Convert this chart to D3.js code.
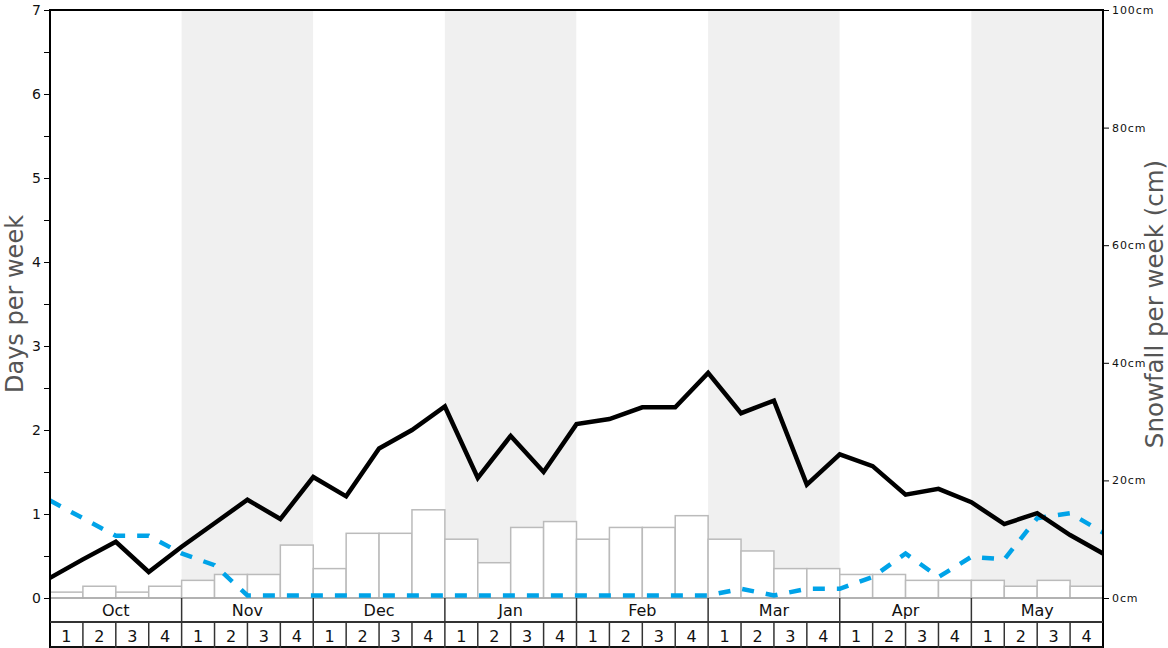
<!DOCTYPE html>
<html><head><meta charset="utf-8">
<script src="https://cdn.jsdelivr.net/npm/d3@7"></script>
<style>body{margin:0;background:#fff}svg{display:block;font-family:"DejaVu Sans",sans-serif}</style>
</head><body><svg id="c" width="1168" height="648"></svg>
<script>
const months = ["Oct","Nov","Dec","Jan","Feb","Mar","Apr","May"];
const weeksPerMonth = [1,2,3,4];
// snowfall per week (cm), 32 weeks
const snowfall = [1,2,1,2, 3,4,4,9, 5,11,11,15, 10,6,12,13, 10,12,12,14, 10,8,5,5, 4,4,3,3, 3,2,3,2];
// days per week, 33 points at week boundaries
const snowDays = [0.24,0.46,0.67,0.31, 0.61,0.89,1.17,0.94, 1.44,1.21,1.78,2.0, 2.28,1.43,1.93,1.5, 2.07,2.13,2.27,2.27, 2.68,2.2,2.35,1.35, 1.71,1.57,1.23,1.30, 1.14,0.88,1.01,0.75, 0.53];
const rainDays = [1.16,0.95,0.74,0.74, 0.53,0.39,0.03,0.03, 0.03,0.03,0.03,0.03, 0.03,0.03,0.03,0.03, 0.03,0.03,0.03,0.03, 0.03,0.11,0.03,0.11, 0.11,0.25,0.53,0.25, 0.49,0.46,0.95,1.01, 0.78];
const leftTicks = [0,1,2,3,4,5,6,7];
const rightTicks = [0,20,40,60,80,100];

const svg = d3.select("#c");
const L = 50, R = 1103, T = 10, B = 598;
const nW = snowfall.length;
const x = d3.scaleLinear().domain([0, nW]).range([L, R]);
const yL = d3.scaleLinear().domain([0, 7]).range([B, T]);
const yR = d3.scaleLinear().domain([0, 100]).range([B, T]);

// month bands
svg.append("g").selectAll("rect").data(months).join("rect")
  .attr("x", (d,i)=>x(i*4)).attr("y", T).attr("width", x(4)-x(0)).attr("height", B-T)
  .attr("fill", (d,i)=> i%2 ? "#f0f0f0" : "#ffffff");

// bars
svg.append("g").selectAll("rect").data(snowfall).join("rect")
  .attr("x", (d,i)=>x(i)).attr("y", d=>yR(d)).attr("width", x(1)-x(0)).attr("height", d=>B-yR(d))
  .attr("fill", "#fff").attr("stroke", "#bbbbbb").attr("stroke-width", 1.5);

// baseline
svg.append("line").attr("x1", L).attr("x2", R).attr("y1", B).attr("y2", B).attr("stroke", "#aaa").attr("stroke-width", 1.5);

// lines
const line = d3.line().x((d,i)=>x(i)).y(d=>yL(d));
svg.append("path").datum(rainDays).attr("d", line).attr("fill","none")
  .attr("stroke","#00a3e8").attr("stroke-width",4.5).attr("stroke-dasharray","12,12");
svg.append("path").datum(snowDays).attr("d", line).attr("fill","none")
  .attr("stroke","#000").attr("stroke-width",4.5).attr("stroke-linejoin","miter");

// frame
svg.append("line").attr("x1", L).attr("x2", R).attr("y1", T).attr("y2", T).attr("stroke","#000").attr("stroke-width",2);

// left axis
const gL = svg.append("g").attr("transform", `translate(${L},0)`)
  .call(d3.axisLeft(yL).tickValues(d3.range(0, 7.01, 0.5)).tickSize(6)
    .tickFormat(d => leftTicks.includes(d) ? d : ""));
gL.select(".domain").remove();
gL.selectAll("text").attr("font-size", 14).attr("fill","#111").attr("font-family","DejaVu Sans");
gL.selectAll("line").attr("stroke","#000");

// right axis
const gR = svg.append("g").attr("transform", `translate(${R},0)`)
  .call(d3.axisRight(yR).tickValues(rightTicks).tickSize(6).tickFormat(d=>d+"cm"));
gR.select(".domain").remove();
gR.selectAll("text").attr("font-size", 11).attr("letter-spacing", 0.9).attr("fill","#111").attr("font-family","DejaVu Sans");
gR.selectAll("line").attr("stroke","#000");

// vertical axis lines
svg.append("line").attr("x1", L).attr("x2", L).attr("y1", T-1).attr("y2", 648).attr("stroke","#000").attr("stroke-width",2);
svg.append("line").attr("x1", R).attr("x2", R).attr("y1", T-1).attr("y2", 648).attr("stroke","#000").attr("stroke-width",2);

// bottom month/week rows
const rowY1 = 598, rowY2 = 622, rowY3 = 648;
const gB = svg.append("g");
gB.append("line").attr("x1", L).attr("x2", R).attr("y1", rowY2).attr("y2", rowY2).attr("stroke","#333").attr("stroke-width",2);
gB.append("line").attr("x1", L).attr("x2", R).attr("y1", 647).attr("y2", 647).attr("stroke","#111").attr("stroke-width",2);
gB.selectAll(".mline").data(d3.range(1, months.length)).join("line")
  .attr("x1", i=>x(i*4)).attr("x2", i=>x(i*4)).attr("y1", rowY1).attr("y2", rowY3)
  .attr("stroke","#333").attr("stroke-width",1.5);
gB.selectAll(".wline").data(d3.range(1, nW).filter(i=>i%4)).join("line")
  .attr("x1", i=>x(i)).attr("x2", i=>x(i)).attr("y1", rowY2).attr("y2", rowY3)
  .attr("stroke","#333").attr("stroke-width",1.5);
gB.selectAll(".mtext").data(months).join("text")
  .attr("x", (d,i)=>x(i*4+2)).attr("y", 616).attr("text-anchor","middle")
  .attr("font-size", 16).attr("fill","#111").text(d=>d);
gB.selectAll(".wtext").data(d3.range(nW)).join("text")
  .attr("x", i=>x(i+0.5)).attr("y", 642).attr("text-anchor","middle")
  .attr("font-size", 16).attr("fill","#111").text(i=>weeksPerMonth[i%4]);

// titles
svg.append("text").attr("transform","translate(23,304) rotate(-90)").attr("text-anchor","middle")
  .attr("font-size",24).attr("fill","#555").text("Days per week");
svg.append("text").attr("transform","translate(1163,304) rotate(-90)").attr("text-anchor","middle")
  .attr("font-size",24.5).attr("fill","#555").text("Snowfall per week (cm)");
</script></body></html>
